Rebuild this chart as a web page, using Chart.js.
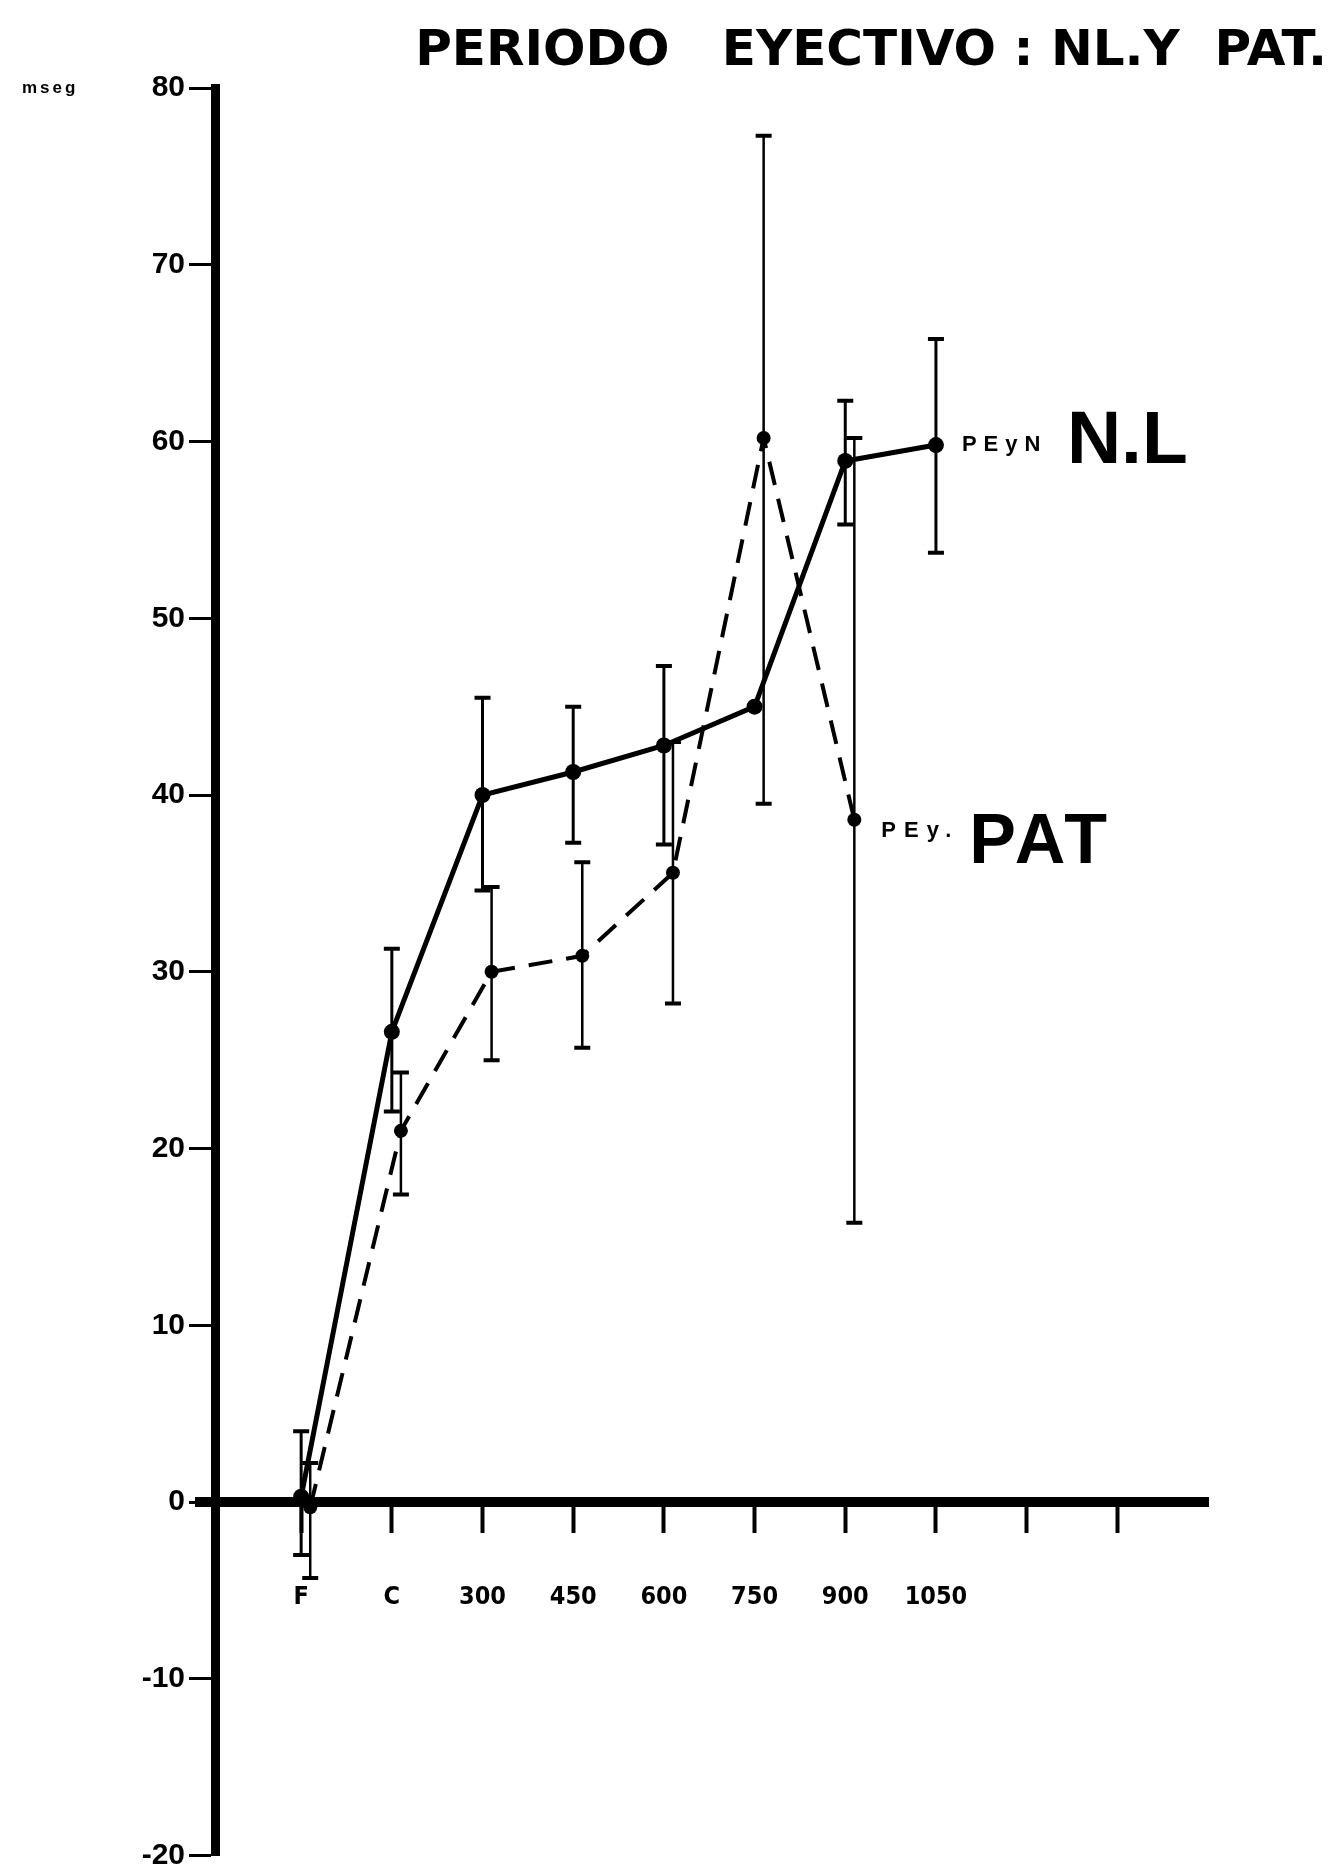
<!DOCTYPE html>
<html lang="es">
<head>
<meta charset="UTF-8">
<title>Periodo eyectivo: NL y PAT</title>
<script src="https://cdn.jsdelivr.net/npm/chart.js"></script>
<style>
  html, body { margin: 0; padding: 0; background: #fff; }
  #wrap { width: 1333px; height: 1867px; }
</style>
</head>
<body>
<div id="wrap"><canvas id="chart" width="1333" height="1867"></canvas></div>
<script>
// x categories (F, C, then load steps), two more unlabeled ticks follow
const categories = ['F', 'C', '300', '450', '600', '750', '900', '1050'];
const xTickCount = 10;
const yTicks = [-20, -10, 0, 10, 20, 30, 40, 50, 60, 70, 80];

// N.L (solid line) mean and error bar ends, mseg
const nlMean = [0.3, 26.6, 40.0, 41.3, 42.8, 45.0, 58.9, 59.8];
const nlHigh = [4.0, 31.3, 45.5, 45.0, 47.3, null, 62.3, 65.8];
const nlLow = [-3.0, 22.1, 34.6, 37.3, 37.2, null, 55.3, 53.7];

// PAT (dashed line), no value at 1050
const patMean = [-0.3, 21.0, 30.0, 30.9, 35.6, 60.2, 38.6];
const patHigh = [2.2, 24.3, 34.8, 36.2, 43.0, 77.3, 60.2];
const patLow = [-4.3, 17.4, 25.0, 25.7, 28.2, 39.5, 15.8];

const cond = "'DejaVu Sans Condensed', 'DejaVu Sans', sans-serif";
const dejavu = "'DejaVu Sans', sans-serif";
const wide = "'Liberation Sans', Arial, sans-serif";

function toPoints(values, shift) {
  return values.map((v, i) => ({ x: i + shift, y: v }));
}

// vertical error bars with small caps
const errorBars = {
  id: 'errorBars',
  afterDatasetsDraw(chart) {
    const ctx = chart.ctx;
    const y = chart.scales.y;
    chart.data.datasets.forEach((ds, i) => {
      const meta = chart.getDatasetMeta(i);
      ctx.save();
      ctx.strokeStyle = '#000';
      meta.data.forEach((pt, j) => {
        const lo = ds.errLow[j], hi = ds.errHigh[j];
        if (lo == null || hi == null) return;
        const yLo = y.getPixelForValue(lo), yHi = y.getPixelForValue(hi);
        ctx.lineWidth = ds.errWidth;
        ctx.beginPath();
        ctx.moveTo(pt.x, yHi);
        ctx.lineTo(pt.x, yLo);
        ctx.stroke();
        ctx.lineWidth = 4;
        ctx.beginPath();
        ctx.moveTo(pt.x - 8, yHi); ctx.lineTo(pt.x + 8, yHi);
        ctx.moveTo(pt.x - 8, yLo); ctx.lineTo(pt.x + 8, yLo);
        ctx.stroke();
      });
      ctx.restore();
    });
  }
};

// series names written next to the last point, the unit, and the
// bit of the zero line that pokes out left of the y axis
const seriesTags = {
  id: 'seriesTags',
  afterDatasetsDraw(chart) {
    const ctx = chart.ctx;
    const area = chart.chartArea;
    ctx.save();
    ctx.fillStyle = '#000';
    ctx.strokeStyle = '#000';
    const y0 = chart.scales.y.getPixelForValue(0);
    ctx.lineWidth = 10;
    ctx.beginPath();
    ctx.moveTo(area.left - 20, y0);
    ctx.lineTo(area.left, y0);
    ctx.stroke();

    chart.data.datasets.forEach((ds, i) => {
      const meta = chart.getDatasetMeta(i);
      const pt = meta.data[meta.data.length - 1];
      const t = ds.tag;
      ctx.textAlign = 'left';
      ctx.textBaseline = 'alphabetic';
      ctx.letterSpacing = t.smallSpacing + 'px';
      ctx.font = 'bold 22px ' + wide;
      ctx.fillText(t.small, pt.x + t.dxSmall, pt.y + t.dySmall);
      ctx.letterSpacing = t.bigSpacing + 'px';
      ctx.font = 'bold ' + t.bigSize + 'px ' + wide;
      ctx.fillText(t.big, pt.x + t.dxBig, pt.y + t.dyBig);
    });
    ctx.letterSpacing = '3px';
    const y80 = chart.scales.y.getPixelForValue(80);
    ctx.font = 'bold 17px ' + wide;
    ctx.textBaseline = 'middle';
    ctx.fillText('mseg', 22, y80);
    ctx.restore();
  }
};

new Chart(document.getElementById('chart'), {
  type: 'line',
  plugins: [errorBars, seriesTags],
  data: {
    datasets: [
      {
        label: 'PEyN N.L',
        data: toPoints(nlMean, 0),
        errLow: nlLow,
        errHigh: nlHigh,
        errWidth: 3,
        tag: { small: 'PEyN', big: 'N.L', dxSmall: 26, dySmall: 6, smallSpacing: 7,
               dxBig: 131, dyBig: 18, bigSize: 75, bigSpacing: 0 },
        borderColor: '#000',
        borderWidth: 5,
        pointRadius: 8,
        pointBackgroundColor: '#000',
        pointBorderWidth: 0,
        tension: 0
      },
      {
        label: 'PEy. PAT',
        data: toPoints(patMean, 0.1),
        errLow: patLow,
        errHigh: patHigh,
        errWidth: 2.5,
        tag: { small: 'PEy.', dxSmall: 27, dySmall: 17, smallSpacing: 8,
               big: 'PAT', dxBig: 115, dyBig: 43, bigSize: 70, bigSpacing: 4 },
        borderColor: '#000',
        borderWidth: 4,
        borderDash: [24, 14],
        pointRadius: 7,
        pointBackgroundColor: '#000',
        pointBorderWidth: 0,
        tension: 0
      }
    ]
  },
  options: {
    responsive: false,
    animation: false,
    layout: { padding: { left: 0, right: 6, top: 0, bottom: 10 } },
    plugins: {
      legend: { display: false },
      tooltip: { enabled: false },
      title: {
        display: true,
        text: 'PERIODO   EYECTIVO : NL.Y  PAT.',
        align: 'end',
        color: '#000',
        font: { family: dejavu, size: 50, weight: 'bold', lineHeight: 1.1 },
        padding: { top: 25, bottom: 8 }
      }
    },
    scales: {
      x: {
        type: 'linear',
        position: { y: 0 },
        min: -0.95,
        max: 10,
        afterBuildTicks: (s) => { s.ticks = Array.from({ length: xTickCount }, (_, i) => ({ value: i })); },
        border: { color: '#000', width: 10 },
        grid: { drawOnChartArea: false, tickLength: 26, tickWidth: 4, tickColor: '#000' },
        ticks: {
          autoSkip: false,
          maxRotation: 0,
          padding: 54,
          color: '#000',
          font: { family: cond, size: 25, weight: 'bold' },
          callback: (v) => categories[v] || ''
        }
      },
      y: {
        position: 'left',
        min: -20,
        max: 80,
        afterBuildTicks: (s) => { s.ticks = yTicks.map(v => ({ value: v })); },
        afterFit: (s) => { s.width = 215; },
        border: { color: '#000', width: 9 },
        grid: { drawOnChartArea: false, tickLength: 26, tickWidth: 3, tickColor: '#000' },
        ticks: {
          padding: 4,
          color: '#000',
          font: { family: wide, size: 30, weight: 'bold', lineHeight: 0.5 }
        }
      },
      yPad: {
        position: 'right',
        display: true,
        grid: { display: false },
        border: { display: false },
        ticks: { display: false },
        afterFit: (s) => { s.width = 119; }
      }
    }
  }
});
</script>
</body>
</html>
